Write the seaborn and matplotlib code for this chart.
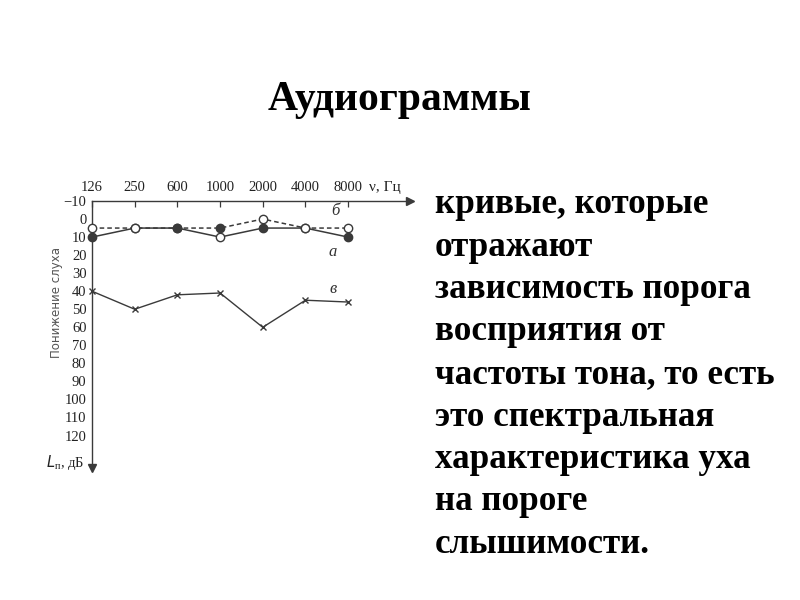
import numpy as np
import pandas as pd
import seaborn as sns
import matplotlib.pyplot as plt

# data
freqs = ["126", "250", "600", "1000", "2000", "4000", "8000"]
curve_a = [10, 5, 5, 10, 5, 5, 10]      # solid, "а"
curve_b = [5, 5, 5, 5, 0, 5, 5]         # dashed, "б"
curve_v = [40, 50, 42, 41, 60, 45, 46]  # crosses, "в"
filled_a = [True, False, True, False, True, False, True]
filled_b = [False, False, True, True, False, False, False]
y_ticks = list(range(-10, 130, 10))

text_lines = ["кривые, которые", "отражают", "зависимость порога",
              "восприятия от", "частоты тона, то есть", "это спектральная",
              "характеристика уха", "на пороге", "слышимости."]

sns.set_style("white")
plt.rcParams["font.family"] = ["Liberation Serif", "DejaVu Serif"]

fig = plt.figure(figsize=(8, 6), dpi=100)
fig.patch.set_facecolor("white")

fig.text(0.5, 1 - 100 / 600, "Аудиограммы", ha="center", va="center",
         fontsize=30, fontweight="bold", color="black")

for i, line in enumerate(text_lines):
    fig.text(435 / 800, 1 - (213 + 42.5 * i) / 600, line, ha="left",
             va="baseline", fontsize=25.3, fontweight="bold", color="black")

ax = fig.add_axes([92 / 800, 1 - 468 / 600, (410 - 92) / 800, (468 - 201) / 600])
ax.set_facecolor("white")

pos = np.arange(len(freqs))
df = pd.DataFrame({"pos": np.tile(pos, 3),
                   "level": curve_a + curve_b + curve_v,
                   "curve": ["а"] * 7 + ["б"] * 7 + ["в"] * 7})

lc = "#3a3a3a"
sns.lineplot(data=df[df.curve == "а"], x="pos", y="level", ax=ax, color=lc,
             lw=1.1, legend=False)
sns.lineplot(data=df[df.curve == "б"], x="pos", y="level", ax=ax, color=lc,
             lw=1.1, linestyle=(0, (3, 2)), legend=False)
sns.lineplot(data=df[df.curve == "в"], x="pos", y="level", ax=ax, color=lc,
             lw=1.0, marker="x", markersize=4.5, markeredgewidth=1.0,
             markeredgecolor=lc, legend=False)
for ln in ax.lines:
    ln.set_clip_on(False)

for vals, fills in [(curve_a, filled_a), (curve_b, filled_b)]:
    for p, v, f in zip(pos, vals, fills):
        ax.plot(p, v, "o", ms=6, mec=lc, mew=1.0,
                mfc=lc if f else "white", zorder=5, clip_on=False)

ax.set_xlim(0, 7.45)
ax.set_ylim(138, -10)

sns.despine(ax=ax, top=False, right=True, bottom=True, left=False)
for s in ["top", "left"]:
    ax.spines[s].set_color(lc)
    ax.spines[s].set_linewidth(1.0)

ax.xaxis.tick_top()
ax.set_xticks(pos)
ax.set_xticklabels(freqs, fontsize=10.5, color="#222222")
ax.set_yticks(y_ticks)
ax.set_yticklabels([str(t).replace("-", "\u2212") for t in y_ticks],
                   fontsize=10.5, color="#222222")
ax.tick_params(axis="x", direction="in", length=4, width=0.9, color=lc, pad=5)
ax.tick_params(axis="y", direction="in", length=4, width=0.9, color=lc, pad=4)
ax.set_xlabel("")
ax.set_ylabel("")

# arrow heads on the axes
ax.plot(1, 1, ">", color=lc, ms=6, transform=ax.transAxes, clip_on=False)
ax.plot(0, 0, "v", color=lc, ms=6, transform=ax.transAxes, clip_on=False)

ax.text(0.87, 1.052, "ν, Гц", transform=ax.transAxes, ha="left", va="center",
        fontsize=11, color="#222222")
ax.text(5.7, -4.4, "б", fontsize=12, style="italic", color="#333333",
        ha="center", va="center")
ax.text(5.65, 18.3, "а", fontsize=12, style="italic", color="#333333",
        ha="center", va="center")
ax.text(5.65, 39, "в", fontsize=12, style="italic", color="#333333",
        ha="center", va="center")

fig.text(57 / 800, 1 - 302 / 600, "Понижение слуха", rotation=90,
         ha="center", va="center", fontsize=8.5, color="#555555",
         family=["DejaVu Sans"])
fig.text(46 / 800, 1 - 462 / 600, "$L_{\\mathregular{п}}$, дБ", ha="left",
         va="center", fontsize=10.5, color="#222222")

fig.savefig("out.png", dpi=100, facecolor="white")
